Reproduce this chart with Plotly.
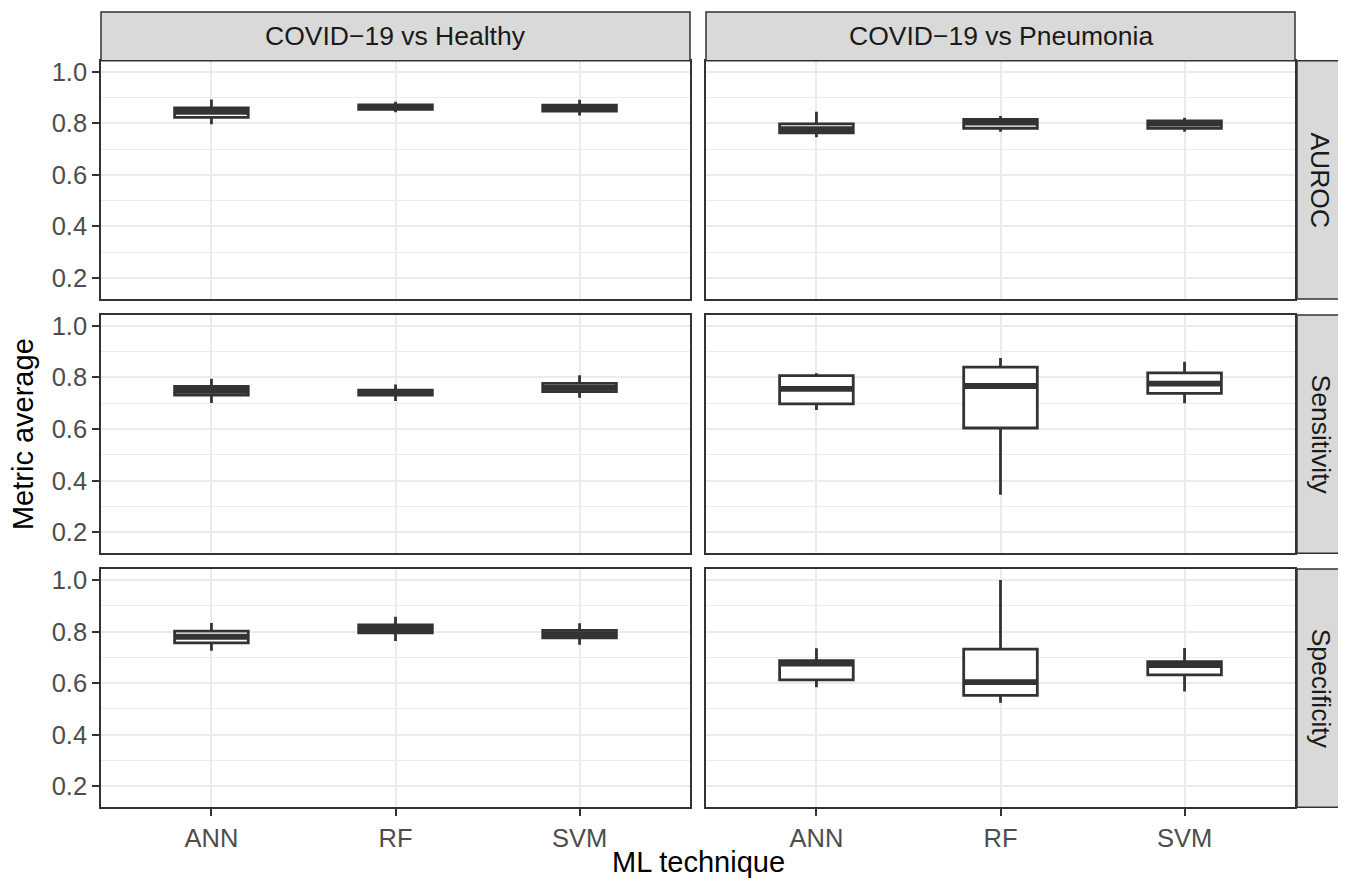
import plotly.graph_objects as go

# ---------------- data ----------------
techniques = ["ANN", "RF", "SVM"]
comparisons = ["COVID\u221219 vs Healthy", "COVID\u221219 vs Pneumonia"]
metrics = ["AUROC", "Sensitivity", "Specificity"]
y_tick_vals = [0.2, 0.4, 0.6, 0.8, 1.0]
y_tick_text = ["0.2", "0.4", "0.6", "0.8", "1.0"]

# each row: [lower whisker, q1, median, q3, upper whisker] for ANN, RF, SVM
auroc_healthy = [[0.797, 0.823, 0.845, 0.860, 0.893],
                 [0.843, 0.854, 0.864, 0.872, 0.884],
                 [0.830, 0.848, 0.858, 0.871, 0.892]]
auroc_pneumonia = [[0.746, 0.763, 0.778, 0.798, 0.845],
                   [0.767, 0.781, 0.803, 0.815, 0.829],
                   [0.767, 0.781, 0.799, 0.810, 0.822]]
sens_healthy = [[0.701, 0.732, 0.748, 0.765, 0.795],
                [0.709, 0.732, 0.742, 0.751, 0.773],
                [0.721, 0.745, 0.760, 0.777, 0.809]]
sens_pneumonia = [[0.674, 0.698, 0.756, 0.807, 0.816],
                  [0.345, 0.604, 0.767, 0.840, 0.876],
                  [0.700, 0.738, 0.776, 0.818, 0.861]]
spec_healthy = [[0.726, 0.756, 0.780, 0.802, 0.833],
                [0.764, 0.795, 0.810, 0.826, 0.858],
                [0.749, 0.776, 0.790, 0.805, 0.832]]
spec_pneumonia = [[0.584, 0.613, 0.676, 0.687, 0.735],
                  [0.524, 0.553, 0.604, 0.732, 1.000],
                  [0.568, 0.632, 0.670, 0.683, 0.736]]

panels = [[auroc_healthy, auroc_pneumonia],
          [sens_healthy, sens_pneumonia],
          [spec_healthy, spec_pneumonia]]

# ---------------- layout geometry (target viewport pixels) ----------------
PAGE_PAD = 8                      # default body margin of the html page
W, H = 1346 - 2 * PAGE_PAD, 888 - 2 * PAGE_PAD
col_px = [(101, 690), (706, 1295)]
row_px = [(58, 297), (313, 552), (568, 807)]
top_strip_px = (9, 58)
right_strip_px = (1297, 1344)

def px_x(v):
    return (v - PAGE_PAD) / W

def px_y(v):
    return 1 - (v - PAGE_PAD) / H

BOX_W = 0.4
LINE_C = "#333333"
GRID_C = "#EBEBEB"
FONT = "Liberation Sans, Arial, Helvetica, sans-serif"

fig = go.Figure()
layout_axes = {}
annotations = []
shapes = []

for r in range(3):
    for c in range(2):
        idx = r * 2 + c + 1
        xa = "x" if idx == 1 else f"x{idx}"
        ya = "y" if idx == 1 else f"y{idx}"
        stats = panels[r][c]
        xs = list(range(len(techniques)))
        fig.add_trace(go.Box(
            x=xs,
            lowerfence=[s[0] for s in stats],
            q1=[s[1] for s in stats],
            median=[s[2] for s in stats],
            q3=[s[3] for s in stats],
            upperfence=[s[4] for s in stats],
            width=BOX_W,
            whiskerwidth=0,
            fillcolor="white",
            line=dict(color=LINE_C, width=2.8),
            boxpoints=False,
            hoverinfo="skip",
            showlegend=False,
            xaxis=xa, yaxis=ya,
        ))
        mx, my = [], []
        for i, s in enumerate(stats):
            mx += [i - BOX_W / 2, i + BOX_W / 2, None]
            my += [s[2], s[2], None]
        fig.add_trace(go.Scatter(
            x=mx, y=my, mode="lines",
            line=dict(color=LINE_C, width=5.8),
            hoverinfo="skip", showlegend=False,
            xaxis=xa, yaxis=ya,
        ))

        xkey = "xaxis" if idx == 1 else f"xaxis{idx}"
        ykey = "yaxis" if idx == 1 else f"yaxis{idx}"
        bottom = (r == 2)
        left = (c == 0)
        layout_axes[xkey] = dict(
            domain=[px_x(col_px[c][0]), px_x(col_px[c][1])],
            anchor=ya,
            range=[-0.6, 2.6],
            tickmode="array",
            tickvals=xs,
            ticktext=techniques if bottom else [""] * 3,
            showticklabels=bottom,
            ticks="outside" if bottom else "",
            ticklen=7, tickwidth=1.5, tickcolor=LINE_C,
            tickfont=dict(family=FONT, size=25.5, color="#4D4D4D"),
            showgrid=True, gridcolor=GRID_C, gridwidth=2.2,
            zeroline=False,
            showline=True, mirror=True, linecolor=LINE_C, linewidth=1.5,
            fixedrange=True,
        )
        layout_axes[ykey] = dict(
            domain=[px_y(row_px[r][1]), px_y(row_px[r][0])],
            anchor=xa,
            range=[0.1188, 1.0425],
            tickmode="array",
            tickvals=y_tick_vals,
            ticktext=y_tick_text,
            showticklabels=left,
            ticks="outside" if left else "",
            ticklen=7, tickwidth=1.5, tickcolor=LINE_C,
            tickfont=dict(family=FONT, size=25.5, color="#4D4D4D"),
            showgrid=True, gridcolor=GRID_C, gridwidth=2.2,
            minor=dict(tickvals=[0.3, 0.5, 0.7, 0.9], showgrid=True,
                       gridcolor=GRID_C, gridwidth=1.2, ticks=""),
            zeroline=False,
            showline=True, mirror=True, linecolor=LINE_C, linewidth=1.5,
            fixedrange=True,
        )

# top strips
for c, label in enumerate(comparisons):
    shapes.append(dict(type="rect", xref="paper", yref="paper",
                       x0=px_x(col_px[c][0]), x1=px_x(col_px[c][1]),
                       y0=px_y(top_strip_px[1]), y1=px_y(top_strip_px[0]),
                       fillcolor="#D9D9D9", line=dict(color=LINE_C, width=1.5)))
    annotations.append(dict(text=label, xref="paper", yref="paper",
                            x=px_x((col_px[c][0] + col_px[c][1]) / 2),
                            y=px_y((top_strip_px[0] + top_strip_px[1]) / 2),
                            showarrow=False, xanchor="center", yanchor="middle",
                            font=dict(family=FONT, size=26.5, color="#1A1A1A")))
# right strips
for r, label in enumerate(metrics):
    shapes.append(dict(type="rect", xref="paper", yref="paper",
                       x0=px_x(right_strip_px[0]), x1=px_x(right_strip_px[1]),
                       y0=px_y(row_px[r][1]), y1=px_y(row_px[r][0]),
                       fillcolor="#D9D9D9", line=dict(color=LINE_C, width=1.5)))
    annotations.append(dict(text=label, xref="paper", yref="paper",
                            x=px_x((right_strip_px[0] + right_strip_px[1]) / 2),
                            y=px_y((row_px[r][0] + row_px[r][1]) / 2),
                            showarrow=False, xanchor="center", yanchor="middle",
                            textangle=90,
                            font=dict(family=FONT, size=26.5, color="#1A1A1A")))

# axis titles
annotations.append(dict(text="Metric average", xref="paper", yref="paper",
                        x=px_x(23), y=px_y((row_px[0][0] + row_px[2][1]) / 2),
                        showarrow=False, xanchor="center", yanchor="middle",
                        textangle=-90,
                        font=dict(family=FONT, size=29, color="black")))
annotations.append(dict(text="ML technique", xref="paper", yref="paper",
                        x=px_x((col_px[0][0] + col_px[1][1]) / 2), y=px_y(879),
                        showarrow=False, xanchor="center", yanchor="bottom",
                        borderpad=0,
                        font=dict(family=FONT, size=29, color="black")))

fig.update_layout(
    width=W, height=H,
    margin=dict(l=0, r=0, t=0, b=0),
    paper_bgcolor="white", plot_bgcolor="white",
    showlegend=False,
    shapes=shapes,
    annotations=annotations,
    **layout_axes,
)

fig.write_html("out.html")
